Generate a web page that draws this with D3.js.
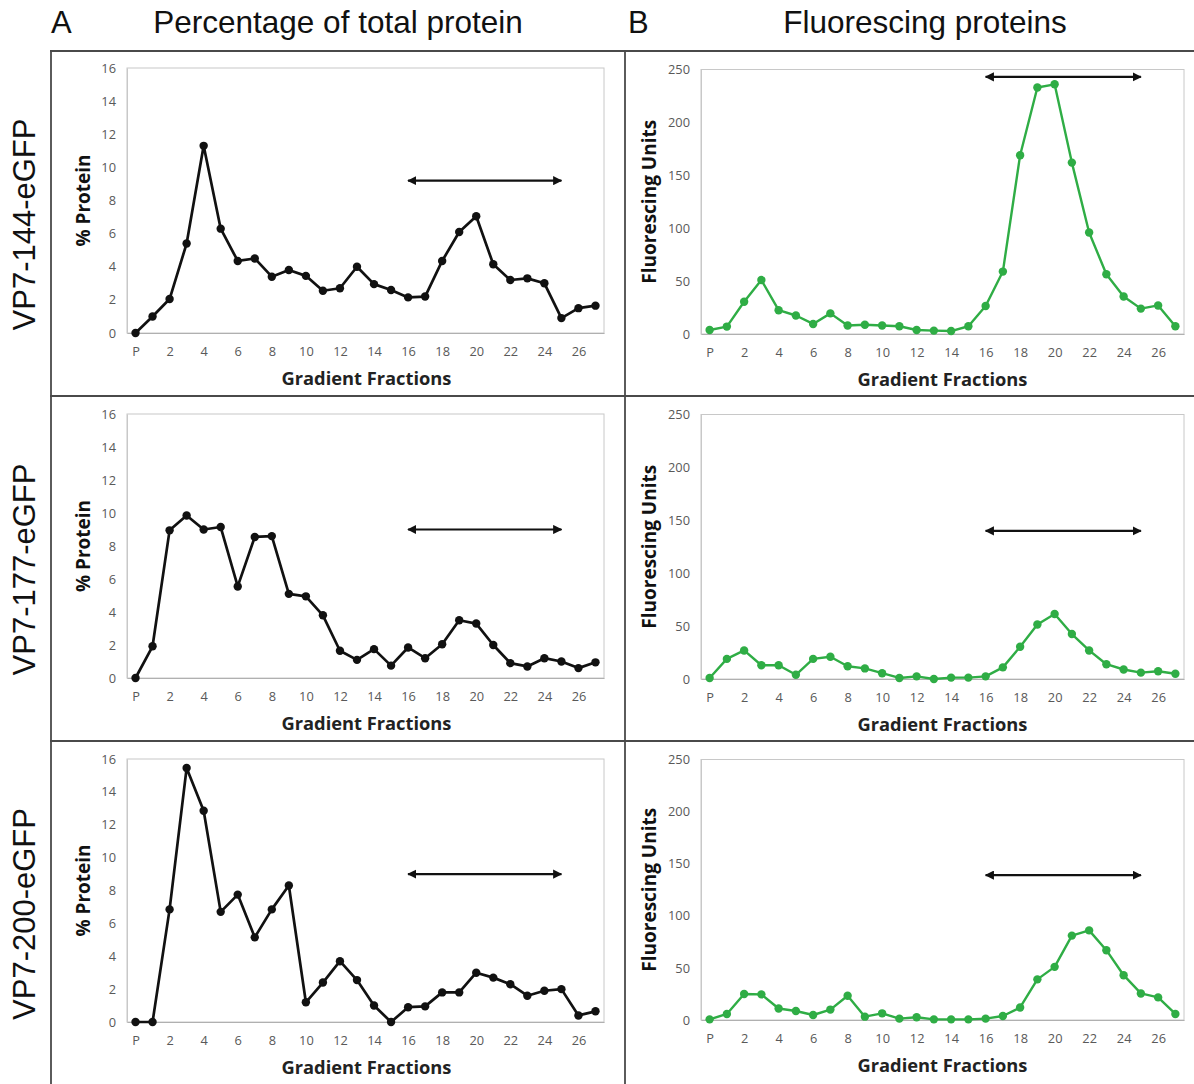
<!DOCTYPE html>
<html>
<head>
<meta charset="utf-8">
<script src="https://cdn.jsdelivr.net/npm/d3@7"></script>
<style>
  body { margin: 0; background: #fff; }
  svg { display: block; }
</style>
</head>
<body>
<div id="chart"></div>
<script>
const W = 1194, H = 1084;

// fractions: P (pellet) then 1..27
const fractions = ["P"].concat(d3.range(1, 28).map(String));
const tickFractions = ["P", "2", "4", "6", "8", "10", "12", "14", "16", "18", "20", "22", "24", "26"];

const constructs = ["VP7-144-eGFP", "VP7-177-eGFP", "VP7-200-eGFP"];
const columnTitles = ["Percentage of total protein", "Fluorescing proteins"];
const columnLetters = ["A", "B"];

// % protein per fraction
const protein144 = [0, 1.0, 2.05, 5.4, 11.3, 6.3, 4.35, 4.5, 3.4, 3.8, 3.45, 2.55, 2.7, 4.0, 2.95, 2.6, 2.15, 2.2, 4.35, 6.1, 7.05, 4.15, 3.2, 3.3, 3.0, 0.9, 1.5, 1.65];
const protein177 = [0, 1.92, 8.95, 9.85, 9.0, 9.15, 5.55, 8.55, 8.6, 5.1, 4.95, 3.8, 1.65, 1.1, 1.75, 0.75, 1.85, 1.2, 2.05, 3.5, 3.3, 2.0, 0.9, 0.7, 1.2, 1.0, 0.6, 0.95];
const protein200 = [0, 0, 6.85, 15.45, 12.85, 6.7, 7.75, 5.15, 6.85, 8.3, 1.2, 2.4, 3.7, 2.55, 1.0, 0, 0.9, 0.95, 1.8, 1.8, 3.0, 2.7, 2.3, 1.6, 1.9, 2.0, 0.4, 0.65];

// fluorescence units per fraction
const fluor144 = [3.8, 7, 30.5, 51, 22.5, 17.5, 9.5, 19.5, 8, 8.8, 8, 7.3, 3.8, 3.2, 2.8, 7.3, 26.5, 59, 169, 233, 236, 162, 96, 56.5, 35.5, 24, 27, 7.3];
const fluor177 = [1, 19, 27, 13, 13, 4, 19, 21, 12, 10, 5.5, 1, 2.5, 0, 1.3, 1.3, 2.5, 11, 30.5, 51.5, 61.5, 42.5, 27, 14, 9, 6, 7.3, 5];
const fluor200 = [0.6, 5.8, 25, 24.6, 11, 8.6, 4.8, 10, 23.3, 3.2, 6.4, 1.3, 2.6, 0.6, 0.6, 0.6, 1.3, 3.8, 12, 39, 51, 81, 86, 67, 43, 25.5, 21.7, 5.8];

// double arrow spanning fractions 16..25
const arrowFrom = "16", arrowTo = "25";
const arrowLevelProtein = [9.2, 9, 9];
const arrowLevelFluor = [243, 140, 139];

const proteinTicks = [0, 2, 4, 6, 8, 10, 12, 14, 16];
const fluorTicks = [0, 50, 100, 150, 200, 250];

const proteinSeries = [protein144, protein177, protein200];
const fluorSeries = [fluor144, fluor177, fluor200];

const rowTop = [50, 395, 740];
const rowBottom = [395, 740, 1084];
const colLeft = [50, 625];

const green = "#2fad45";
const tickFont = "'Open Sans', sans-serif";
const headFont = "'Liberation Sans', Arial, sans-serif";

const svg = d3.select("#chart").append("svg")
  .attr("width", W)
  .attr("height", H)
  .attr("viewBox", `0 0 ${W} ${H}`);

svg.append("defs").append("marker")
  .attr("id", "head")
  .attr("viewBox", "0 0 10 10")
  .attr("refX", 9)
  .attr("refY", 5)
  .attr("markerWidth", 4.2)
  .attr("markerHeight", 4.2)
  .attr("orient", "auto-start-reverse")
  .append("path")
  .attr("d", "M0,0 L10,5 L0,10 Z")
  .attr("fill", "#111");

// column headers
columnLetters.forEach((l, i) => {
  svg.append("text")
    .attr("x", [51, 628][i])
    .attr("y", 33)
    .attr("font-family", headFont)
    .attr("font-size", 31)
    .attr("fill", "#111")
    .text(l);
  svg.append("text")
    .attr("x", [338, 925][i])
    .attr("y", 33)
    .attr("text-anchor", "middle")
    .attr("font-family", headFont)
    .attr("font-size", 31.5)
    .attr("fill", "#111")
    .text(columnTitles[i]);
});

// row labels
constructs.forEach((c, r) => {
  const cy = (rowTop[r] + rowBottom[r]) / 2 + 2;
  svg.append("text")
    .attr("transform", `translate(35,${cy}) rotate(-90)`)
    .attr("text-anchor", "middle")
    .attr("font-family", headFont)
    .attr("font-size", 31)
    .attr("fill", "#111")
    .text(c);
});

// panel grid lines
const grid = svg.append("g")
  .attr("stroke", "#4a4a4a")
  .attr("stroke-width", 1.8);
rowTop.forEach(y => grid.append("line").attr("x1", 50).attr("x2", W).attr("y1", y + 1).attr("y2", y + 1));
grid.append("line").attr("x1", 51).attr("x2", 51).attr("y1", 50).attr("y2", H);
grid.append("line").attr("x1", 625).attr("x2", 625).attr("y1", 50).attr("y2", H);

function drawPanel(col, row) {
  const isProtein = col === 0;
  const values = isProtein ? proteinSeries[row] : fluorSeries[row];
  const ox = colLeft[col], oy = rowTop[row];
  const plot = isProtein
    ? { left: ox + 77, right: ox + 554, top: oy + 18 + (row ? 1 : 0), bottom: oy + 283 + (row === 2 ? -1 : 0) }
    : { left: ox + 76, right: ox + 559, top: oy + 19.5, bottom: oy + 284 + (row === 2 ? -4 : 0) };

  const x = d3.scalePoint()
    .domain(fractions)
    .range([plot.left, plot.right])
    .padding(0.5);
  const y = d3.scaleLinear()
    .domain(isProtein ? [0, 16] : [0, 250])
    .range([plot.bottom, plot.top]);

  const g = svg.append("g");

  // plot frame
  g.append("rect")
    .attr("x", plot.left)
    .attr("y", plot.top)
    .attr("width", plot.right - plot.left)
    .attr("height", plot.bottom - plot.top)
    .attr("fill", "none")
    .attr("stroke", "#c8c8c8")
    .attr("stroke-width", 1);

  const yAxis = g.append("g")
    .attr("transform", `translate(${plot.left},0)`)
    .call(d3.axisLeft(y).tickValues(isProtein ? proteinTicks : fluorTicks).tickSize(0).tickPadding(11));
  yAxis.select(".domain").attr("stroke", "#c8c8c8");

  const xAxis = g.append("g")
    .attr("transform", `translate(0,${plot.bottom})`)
    .call(d3.axisBottom(x).tickValues(tickFractions).tickSize(0).tickPadding(14));
  xAxis.select(".domain").attr("stroke", "#b0b0b0").attr("stroke-width", 1.2);

  g.selectAll(".tick text")
    .attr("font-family", tickFont)
    .attr("font-size", 12.8)
    .attr("fill", "#595959");

  // axis titles
  g.append("text")
    .attr("x", (plot.left + plot.right) / 2 + (isProtein ? 1 : 0))
    .attr("y", plot.bottom + 52)
    .attr("text-anchor", "middle")
    .attr("font-family", "'Open Sans', sans-serif")
    .attr("font-weight", "bold")
    .attr("font-size", 18.3)
    .attr("fill", "#222")
    .text("Gradient Fractions");

  g.append("text")
    .attr("transform", `translate(${ox + (isProtein ? 40 : 31)},${(plot.top + plot.bottom) / 2}) rotate(-90)`)
    .attr("text-anchor", "middle")
    .attr("font-family", "'Open Sans', sans-serif")
    .attr("font-weight", "bold")
    .attr("font-size", 19)
    .attr("fill", "#111")
    .text(isProtein ? "% Protein" : "Fluorescing Units");

  const color = isProtein ? "#111" : green;
  const line = d3.line()
    .x((d, i) => x(fractions[i]))
    .y(d => y(d));

  g.append("path")
    .datum(values)
    .attr("fill", "none")
    .attr("stroke", color)
    .attr("stroke-width", isProtein ? 2.7 : 2.4)
    .attr("stroke-linejoin", "round")
    .attr("d", line);

  g.selectAll("circle.pt")
    .data(values)
    .join("circle")
    .attr("class", "pt")
    .attr("cx", (d, i) => x(fractions[i]))
    .attr("cy", d => y(d))
    .attr("r", 4.2)
    .attr("fill", color);

  // fraction range arrow
  const level = isProtein ? arrowLevelProtein[row] : arrowLevelFluor[row];
  g.append("line")
    .attr("x1", x(arrowFrom))
    .attr("x2", x(arrowTo))
    .attr("y1", y(level))
    .attr("y2", y(level))
    .attr("stroke", "#111")
    .attr("stroke-width", 2.2)
    .attr("marker-start", "url(#head)")
    .attr("marker-end", "url(#head)");
}

for (let r = 0; r < 3; r++) {
  drawPanel(0, r);
  drawPanel(1, r);
}
</script>
</body>
</html>
